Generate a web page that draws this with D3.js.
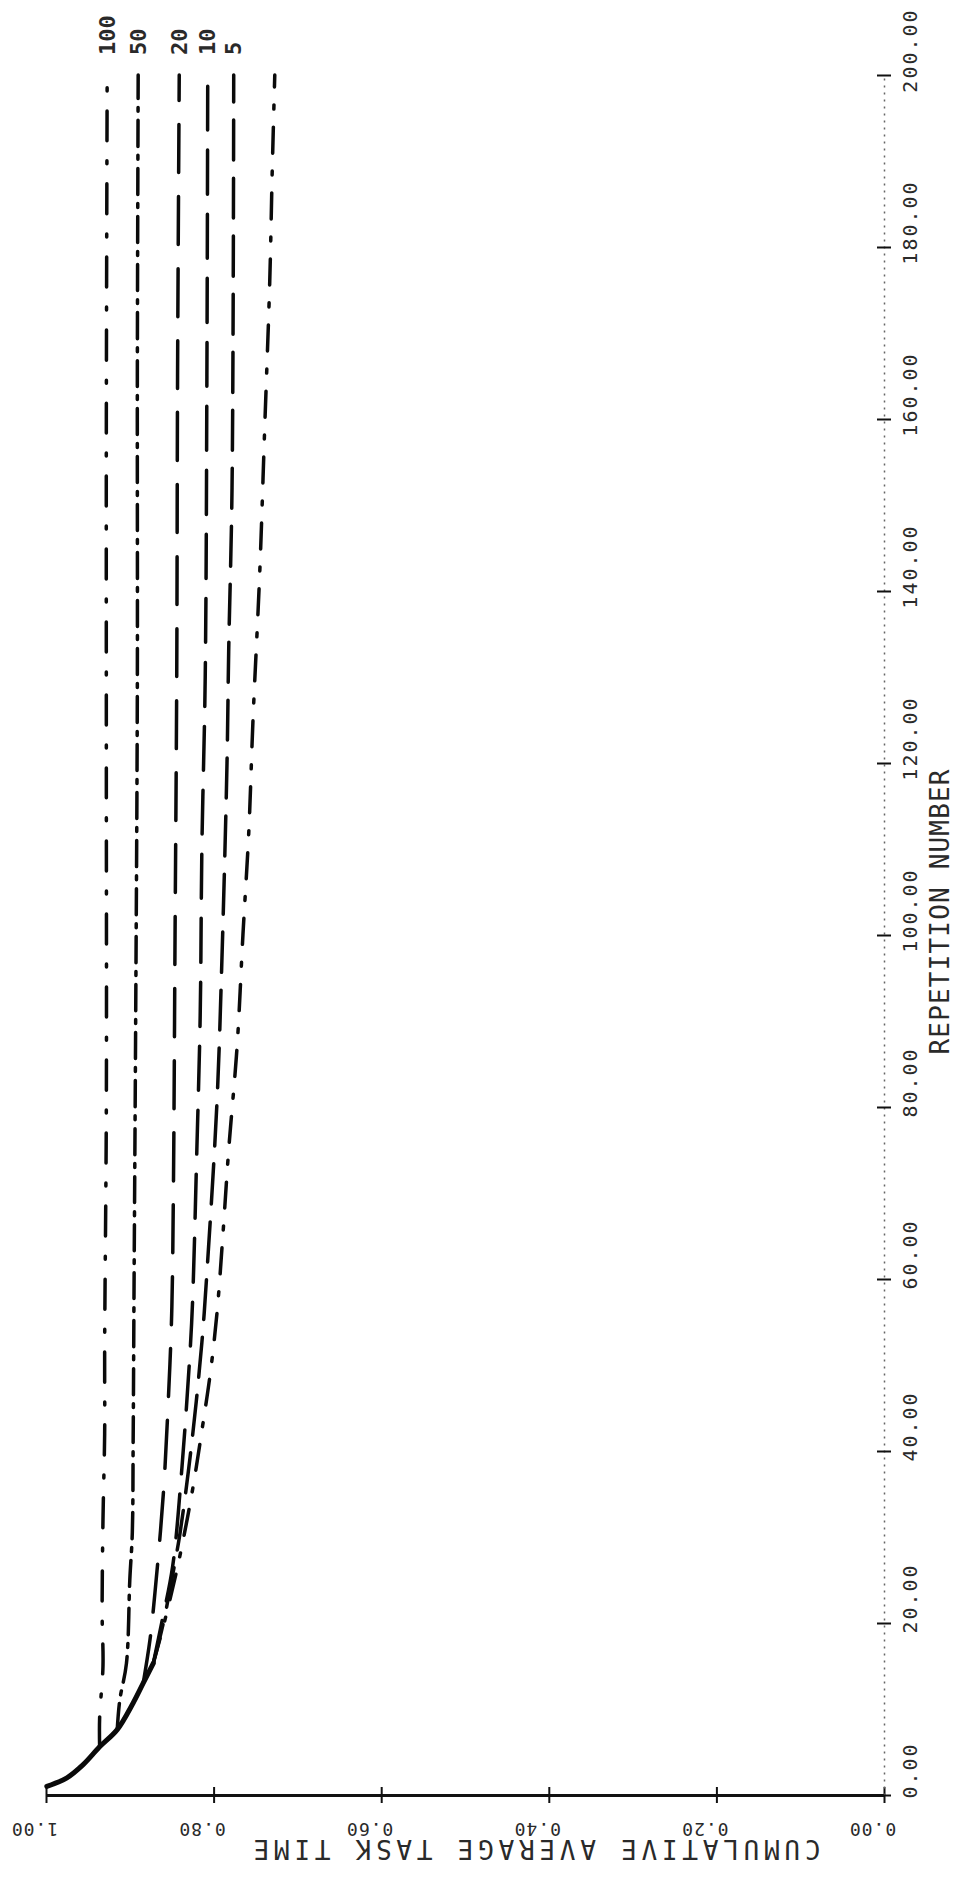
<!DOCTYPE html>
<html>
<head>
<meta charset="utf-8">
<script src="https://cdn.jsdelivr.net/npm/d3@7"></script>
<style>
  body { margin: 0; background: #fff; }
  svg { display: block; background: #fff; }
  text { font-family: "DejaVu Sans Mono", "Liberation Mono", monospace; fill: #2a2a2a; }
</style>
</head>
<body>
<div id="chart"></div>
<script>
// plot is turned on its side: repetition number runs up the right edge,
// cumulative average task time runs leftward along the bottom
const repTicks = [0, 20, 40, 60, 80, 100, 120, 140, 160, 180, 200];
const timeTicks = [0, 0.2, 0.4, 0.6, 0.8, 1.0];
const curveLabels = ["100", "50", "20", "10", "5", ""];

// shared solid start of all curves
const trunkRep  = [1, 2, 3.5, 5.6, 7.6, 10.7, 13, 15.3];
const trunkTime = [0.999, 0.975, 0.956, 0.936, 0.915, 0.896, 0.884, 0.872];

const rep100  = [5.6, 9, 15, 21, 32, 42, 52, 80, 120, 160, 200];
const time100 = [0.936, 0.936, 0.932, 0.933, 0.932, 0.930, 0.930, 0.928, 0.928, 0.928, 0.927];

const rep50  = [7.6, 11, 15.3, 25, 30.5, 41, 58, 90, 129, 165, 200];
const time50 = [0.915, 0.912, 0.904, 0.900, 0.897, 0.896, 0.895, 0.893, 0.891, 0.891, 0.890];

const rep20  = [13, 18, 23.5, 35, 46, 56, 70, 100, 130, 165, 200];
const time20 = [0.884, 0.876, 0.870, 0.860, 0.854, 0.850, 0.848, 0.846, 0.844, 0.843, 0.841];

const rep10  = [15.3, 20, 26.5, 37.8, 51.7, 57.6, 75, 90.6, 110, 130, 165, 200];
const time10 = [0.872, 0.862, 0.849, 0.838, 0.828, 0.825, 0.820, 0.816, 0.814, 0.810, 0.808, 0.807];

const rep5  = [15.3, 20, 25, 30.5, 41, 52.6, 60.7, 80.5, 97.4, 120, 133, 152, 200];
const time5 = [0.872, 0.860, 0.850, 0.840, 0.826, 0.814, 0.808, 0.796, 0.790, 0.784, 0.782, 0.778, 0.776];

const repLast  = [15.3, 20, 27, 35, 43, 49, 56, 65, 75, 87, 100, 112, 125, 142, 159, 176, 189, 200];
const timeLast = [0.872, 0.859, 0.842, 0.826, 0.813, 0.804, 0.796, 0.789, 0.782, 0.772, 0.765, 0.758, 0.753, 0.745, 0.739, 0.733, 0.730, 0.727];

const width = 957, height = 1880;

const svg = d3.select("#chart").append("svg")
  .attr("width", width)
  .attr("height", height);

const x = d3.scaleLinear().domain([0, 1]).range([884, 46]);
const y = d3.scaleLinear().domain([0, 200]).range([1795, 75]);

//bottom axis (task time), labels upside down
const xAxis = svg.append("g")
  .attr("transform", "translate(0," + y(0) + ")")
  .call(d3.axisBottom(x).tickValues(timeTicks).tickFormat(d3.format(".2f")).tickSizeOuter(0));

xAxis.select(".domain").attr("stroke", "#111").attr("stroke-width", 3);
xAxis.selectAll(".tick line")
  .attr("y1", -8).attr("y2", 8)
  .attr("stroke", "#111").attr("stroke-width", 2);
xAxis.selectAll(".tick text")
  .attr("y", 0).attr("dy", "0.35em")
  .attr("transform", "translate(-12,34) rotate(180)")
  .attr("font-size", 18)
  .attr("fill", "#444")
  .attr("letter-spacing", 1);

//right axis (repetition number)
const yAxis = svg.append("g")
  .attr("transform", "translate(" + x(0) + ",0)")
  .call(d3.axisRight(y).tickValues(repTicks).tickFormat(d3.format(".2f")).tickSizeOuter(0));

yAxis.select(".domain")
  .attr("stroke", "#666").attr("stroke-width", 1.5)
  .attr("stroke-dasharray", "2,5");
yAxis.selectAll(".tick line")
  .attr("x1", -7).attr("x2", 7)
  .attr("stroke", "#111").attr("stroke-width", 2);
yAxis.selectAll(".tick text")
  .attr("x", 0).attr("dy", "0.35em")
  .attr("transform", "translate(26,-25) rotate(-90)")
  .attr("text-anchor", "middle")
  .attr("font-size", 20)
  .attr("fill", "#444")
  .attr("letter-spacing", 2);

//axis titles
svg.append("text")
  .attr("transform", "translate(537,1849) rotate(180)")
  .attr("text-anchor", "middle")
  .attr("dominant-baseline", "central")
  .attr("font-size", 26)
  .attr("textLength", 567)
  .attr("lengthAdjust", "spacing")
  .text("CUMULATIVE AVERAGE TASK TIME");

svg.append("text")
  .attr("transform", "translate(940,912) rotate(-90)")
  .attr("text-anchor", "middle")
  .attr("dominant-baseline", "central")
  .attr("font-size", 26)
  .attr("textLength", 285)
  .attr("lengthAdjust", "spacing")
  .text("REPETITION NUMBER");

//curves
const line = d3.line()
  .x(d => x(d[1]))
  .y(d => y(d[0]))
  .curve(d3.curveCatmullRom.alpha(0.5));

const curves = [
  d3.zip(rep100, time100),
  d3.zip(rep50, time50),
  d3.zip(rep20, time20),
  d3.zip(rep10, time10),
  d3.zip(rep5, time5),
  d3.zip(repLast, timeLast)
];
const dashes = ["30,20,3,20", "26,9,4,9", "48,24", "44,20", "40,18", "26,18,4,18"];

svg.append("g").selectAll("path.curve")
  .data(curves)
  .enter()
    .append("path")
    .attr("class", "curve")
    .attr("d", line)
    .attr("fill", "none")
    .attr("stroke", "#0a0a0a")
    .attr("stroke-width", 3.5)
    .attr("stroke-linecap", "round")
    .attr("stroke-dasharray", (d, i) => dashes[i]);

svg.append("path")
  .datum(d3.zip(trunkRep, trunkTime))
  .attr("d", line)
  .attr("fill", "none")
  .attr("stroke", "#0a0a0a")
  .attr("stroke-width", 5)
  .attr("stroke-linecap", "round");

//curve labels at the top end of each curve
svg.append("g").selectAll("text.curve-label")
  .data(curves)
  .enter()
    .append("text")
    .attr("class", "curve-label")
    .attr("transform", d => "translate(" + x(d[d.length - 1][1]) + ",55) rotate(-90)")
    .attr("dominant-baseline", "central")
    .attr("font-size", 22)
    .attr("font-weight", "bold")
    .attr("fill", "#111")
    .text((d, i) => curveLabels[i]);
</script>
</body>
</html>
